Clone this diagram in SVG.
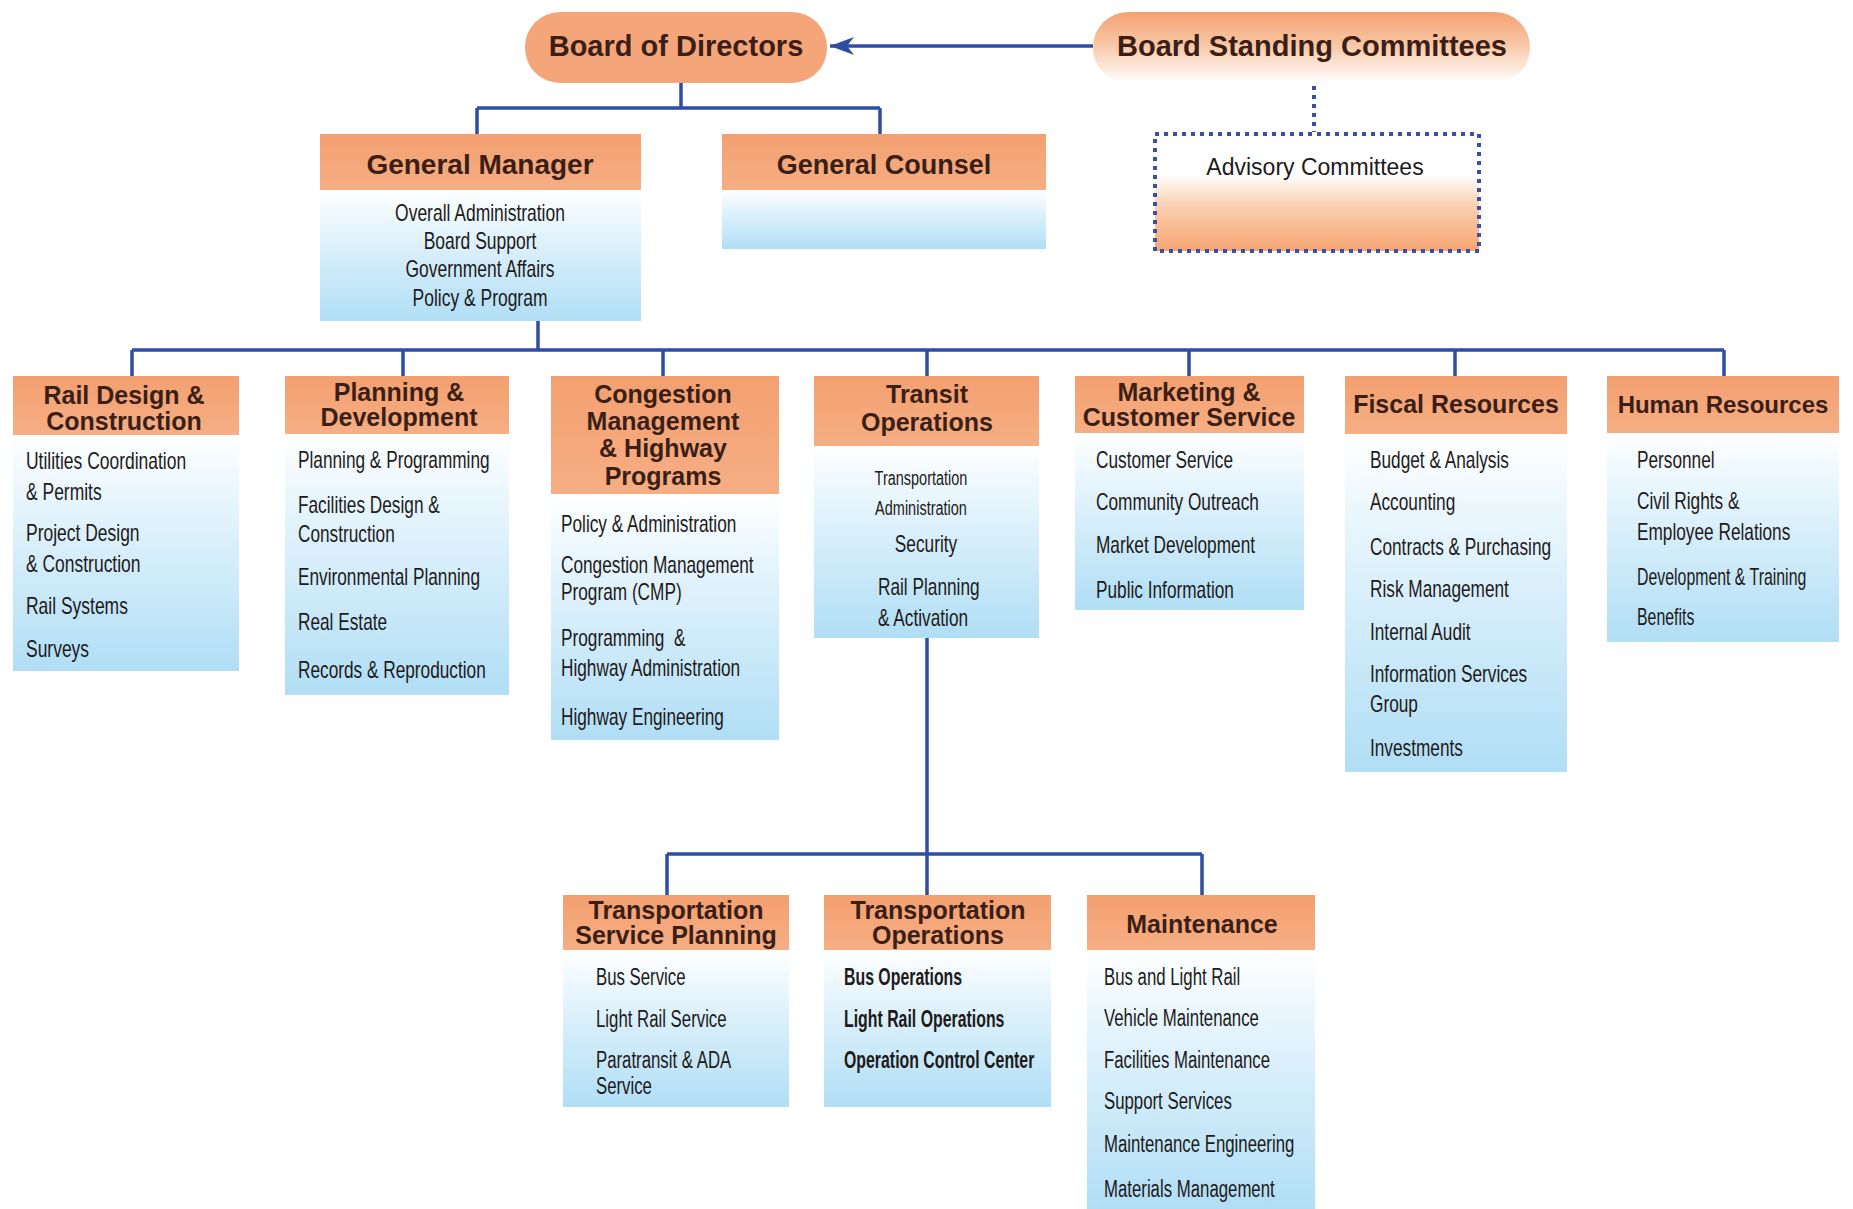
<svg xmlns="http://www.w3.org/2000/svg" width="1853" height="1209" viewBox="0 0 1853 1209">
<defs>
<linearGradient id="gBody" x1="0" y1="0" x2="0" y2="1">
<stop offset="0" stop-color="#FFFFFF"/><stop offset="0.25" stop-color="#E9F6FD"/><stop offset="1" stop-color="#B0DEF5"/>
</linearGradient>
<linearGradient id="gHead" x1="0" y1="0" x2="0" y2="1">
<stop offset="0" stop-color="#F3A070"/><stop offset="1" stop-color="#F6AE84"/>
</linearGradient>
<linearGradient id="gBSC" x1="0" y1="0" x2="0" y2="1">
<stop offset="0" stop-color="#F3A272"/><stop offset="0.45" stop-color="#F8C6A4"/><stop offset="1" stop-color="#FFFFFF"/>
</linearGradient>
<linearGradient id="gAdv" x1="0" y1="0" x2="0" y2="1">
<stop offset="0" stop-color="#FFFFFF"/><stop offset="0.35" stop-color="#FFFFFF"/><stop offset="0.6" stop-color="#FAD2B4"/><stop offset="1" stop-color="#F5A470"/>
</linearGradient>
<marker id="arr" viewBox="0 0 24 18" refX="24" refY="9" markerWidth="24" markerHeight="18" markerUnits="userSpaceOnUse" orient="auto">
<path d="M24,9 L0,0 L7,9 L0,18 Z" fill="#2F4DA3"/>
</marker>
<style>
.hd{fill:url(#gHead);}
.bd{fill:url(#gBody);}
.ht{font-family:"Liberation Sans",Arial,sans-serif;font-weight:bold;font-size:25px;fill:#3B1F16;text-anchor:middle;}
.tt{font-family:"Liberation Sans",Arial,sans-serif;font-weight:bold;font-size:29px;fill:#3B1F16;text-anchor:middle;}
.bt{font-family:"Liberation Sans",Arial,sans-serif;font-size:23px;fill:#1E1A1A;}
.bc{text-anchor:middle;}
.bb{font-weight:bold;}
.ln{fill:none;stroke:#2F4DA3;stroke-width:3.5;}
.dt{fill:none;stroke:#3A4FA8;stroke-width:4;stroke-dasharray:4 5;}
</style>
</defs>

<g id="connectors">
<path class="ln" d="M1093,46 H830" marker-end="url(#arr)"/>
<path class="ln" d="M681,83 V108 M477,108 H880 M477,108 V134 M880,108 V134"/>
<path class="dt" d="M1314,86 V132"/>
<path class="ln" d="M538,321 V350 M132,350 H1724 M132,350 V376 M403,350 V376 M663,350 V376 M927,350 V376 M1189,350 V376 M1455,350 V376 M1724,350 V376"/>
<path class="ln" d="M927,638 V854 M667,854 H1202 M667,854 V895 M927,854 V895 M1202,854 V895"/>
</g>

<g id="board-of-directors">
<rect x="525" y="12" width="302" height="71" rx="35" fill="#F4A67A"/>
<text class="tt" x="676" y="56">Board of Directors</text>
</g>

<g id="board-standing-committees">
<rect x="1093" y="12" width="437" height="71" rx="35" fill="url(#gBSC)"/>
<text class="tt" x="1312" y="56">Board Standing Committees</text>
</g>

<g id="advisory-committees">
<rect x="1155" y="134" width="324" height="117" fill="url(#gAdv)"/>
<rect class="dt" x="1155" y="134" width="324" height="117"/>
<text x="1315" y="175" style="font-family:'Liberation Sans',Arial,sans-serif;font-size:23px;fill:#1E1A1A;text-anchor:middle">Advisory Committees</text>
</g>

<g id="general-manager">
<rect class="hd" x="320" y="134" width="321" height="56"/>
<rect class="bd" x="320" y="190" width="321" height="131"/>
<text class="tt" x="480" y="174" style="font-size:28px">General Manager</text>
<text class="bt bc" transform="translate(480,221) scale(0.76,1)">Overall Administration</text>
<text class="bt bc" transform="translate(480,249) scale(0.76,1)">Board Support</text>
<text class="bt bc" transform="translate(480,277) scale(0.76,1)">Government Affairs</text>
<text class="bt bc" transform="translate(480,306) scale(0.76,1)">Policy &amp; Program</text>
</g>

<g id="general-counsel">
<rect class="hd" x="722" y="134" width="324" height="56"/>
<rect class="bd" x="722" y="190" width="324" height="59"/>
<text class="tt" x="884" y="174" style="font-size:27px">General Counsel</text>
</g>

<g id="rail-design-construction">
<rect class="hd" x="13" y="376" width="226" height="59"/>
<rect class="bd" x="13" y="435" width="226" height="236"/>
<text class="ht" x="124" y="404">Rail Design &amp;</text>
<text class="ht" x="124" y="430">Construction</text>
<text class="bt" transform="translate(26,469) scale(0.76,1)">Utilities Coordination</text>
<text class="bt" transform="translate(26,500) scale(0.76,1)">&amp; Permits</text>
<text class="bt" transform="translate(26,541) scale(0.76,1)">Project Design</text>
<text class="bt" transform="translate(26,572) scale(0.76,1)">&amp; Construction</text>
<text class="bt" transform="translate(26,614) scale(0.76,1)">Rail Systems</text>
<text class="bt" transform="translate(26,657) scale(0.76,1)">Surveys</text>
</g>

<g id="planning-development">
<rect class="hd" x="285" y="376" width="224" height="58"/>
<rect class="bd" x="285" y="434" width="224" height="261"/>
<text class="ht" x="399" y="401">Planning &amp;</text>
<text class="ht" x="399" y="426">Development</text>
<text class="bt" transform="translate(298,468) scale(0.75,1)">Planning &amp; Programming</text>
<text class="bt" transform="translate(298,513) scale(0.75,1)">Facilities Design &amp;</text>
<text class="bt" transform="translate(298,542) scale(0.75,1)">Construction</text>
<text class="bt" transform="translate(298,585) scale(0.75,1)">Environmental Planning</text>
<text class="bt" transform="translate(298,630) scale(0.75,1)">Real Estate</text>
<text class="bt" transform="translate(298,678) scale(0.75,1)">Records &amp; Reproduction</text>
</g>

<g id="congestion-management">
<rect class="hd" x="551" y="376" width="228" height="118"/>
<rect class="bd" x="551" y="494" width="228" height="246"/>
<text class="ht" x="663" y="403">Congestion</text>
<text class="ht" x="663" y="430">Management</text>
<text class="ht" x="663" y="457">&amp; Highway</text>
<text class="ht" x="663" y="485">Programs</text>
<text class="bt" transform="translate(561,532) scale(0.75,1)">Policy &amp; Administration</text>
<text class="bt" transform="translate(561,573) scale(0.75,1)">Congestion Management</text>
<text class="bt" transform="translate(561,600) scale(0.75,1)">Program (CMP)</text>
<text class="bt" transform="translate(561,646) scale(0.75,1)" xml:space="preserve">Programming  &amp;</text>
<text class="bt" transform="translate(561,676) scale(0.75,1)">Highway Administration</text>
<text class="bt" transform="translate(561,725) scale(0.75,1)">Highway Engineering</text>
</g>

<g id="transit-operations">
<rect class="hd" x="814" y="376" width="225" height="70"/>
<rect class="bd" x="814" y="446" width="225" height="192"/>
<text class="ht" x="927" y="403">Transit</text>
<text class="ht" x="927" y="431">Operations</text>
<text class="bt bc" transform="translate(921,485) scale(0.69,1)" style="font-size:21px">Transportation</text>
<text class="bt bc" transform="translate(921,515) scale(0.69,1)" style="font-size:21px">Administration</text>
<text class="bt bc" transform="translate(926,552) scale(0.75,1)">Security</text>
<text class="bt" transform="translate(878,595) scale(0.75,1)">Rail Planning</text>
<text class="bt" transform="translate(878,626) scale(0.75,1)">&amp; Activation</text>
</g>

<g id="marketing-customer-service">
<rect class="hd" x="1075" y="376" width="229" height="57"/>
<rect class="bd" x="1075" y="433" width="229" height="177"/>
<text class="ht" x="1189" y="401">Marketing &amp;</text>
<text class="ht" x="1189" y="426">Customer Service</text>
<text class="bt" transform="translate(1096,468) scale(0.75,1)">Customer Service</text>
<text class="bt" transform="translate(1096,510) scale(0.75,1)">Community Outreach</text>
<text class="bt" transform="translate(1096,553) scale(0.75,1)">Market Development</text>
<text class="bt" transform="translate(1096,598) scale(0.75,1)">Public Information</text>
</g>

<g id="fiscal-resources">
<rect class="hd" x="1345" y="376" width="222" height="58"/>
<rect class="bd" x="1345" y="434" width="222" height="338"/>
<text class="ht" x="1456" y="413">Fiscal Resources</text>
<text class="bt" transform="translate(1370,468) scale(0.75,1)">Budget &amp; Analysis</text>
<text class="bt" transform="translate(1370,510) scale(0.75,1)">Accounting</text>
<text class="bt" transform="translate(1370,555) scale(0.75,1)">Contracts &amp; Purchasing</text>
<text class="bt" transform="translate(1370,597) scale(0.75,1)">Risk Management</text>
<text class="bt" transform="translate(1370,640) scale(0.75,1)">Internal Audit</text>
<text class="bt" transform="translate(1370,682) scale(0.75,1)">Information Services</text>
<text class="bt" transform="translate(1370,712) scale(0.75,1)">Group</text>
<text class="bt" transform="translate(1370,756) scale(0.75,1)">Investments</text>
</g>

<g id="human-resources">
<rect class="hd" x="1607" y="376" width="232" height="57"/>
<rect class="bd" x="1607" y="433" width="232" height="209"/>
<text class="ht" x="1723" y="413" style="font-size:24px">Human Resources</text>
<text class="bt" transform="translate(1637,468) scale(0.75,1)">Personnel</text>
<text class="bt" transform="translate(1637,509) scale(0.75,1)">Civil Rights &amp;</text>
<text class="bt" transform="translate(1637,540) scale(0.75,1)">Employee Relations</text>
<text class="bt" transform="translate(1637,585) scale(0.69,1)">Development &amp; Training</text>
<text class="bt" transform="translate(1637,625) scale(0.69,1)">Benefits</text>
</g>

<g id="transportation-service-planning">
<rect class="hd" x="563" y="895" width="226" height="55"/>
<rect class="bd" x="563" y="950" width="226" height="157"/>
<text class="ht" x="676" y="919">Transportation</text>
<text class="ht" x="676" y="944">Service Planning</text>
<text class="bt" transform="translate(596,985) scale(0.73,1)">Bus Service</text>
<text class="bt" transform="translate(596,1027) scale(0.73,1)">Light Rail Service</text>
<text class="bt" transform="translate(596,1068) scale(0.73,1)">Paratransit &amp; ADA</text>
<text class="bt" transform="translate(596,1094) scale(0.73,1)">Service</text>
</g>

<g id="transportation-operations">
<rect class="hd" x="824" y="895" width="227" height="55"/>
<rect class="bd" x="824" y="950" width="227" height="157"/>
<text class="ht" x="938" y="919">Transportation</text>
<text class="ht" x="938" y="944">Operations</text>
<text class="bt bb" transform="translate(844,985) scale(0.69,1)">Bus Operations</text>
<text class="bt bb" transform="translate(844,1027) scale(0.69,1)">Light Rail Operations</text>
<text class="bt bb" transform="translate(844,1068) scale(0.69,1)">Operation Control Center</text>
</g>

<g id="maintenance">
<rect class="hd" x="1087" y="895" width="228" height="55"/>
<rect class="bd" x="1087" y="950" width="228" height="259"/>
<text class="ht" x="1202" y="933">Maintenance</text>
<text class="bt" transform="translate(1104,985) scale(0.73,1)">Bus and Light Rail</text>
<text class="bt" transform="translate(1104,1026) scale(0.73,1)">Vehicle Maintenance</text>
<text class="bt" transform="translate(1104,1068) scale(0.73,1)">Facilities Maintenance</text>
<text class="bt" transform="translate(1104,1109) scale(0.73,1)">Support Services</text>
<text class="bt" transform="translate(1104,1152) scale(0.73,1)">Maintenance Engineering</text>
<text class="bt" transform="translate(1104,1197) scale(0.73,1)">Materials Management</text>
</g>
</svg>
